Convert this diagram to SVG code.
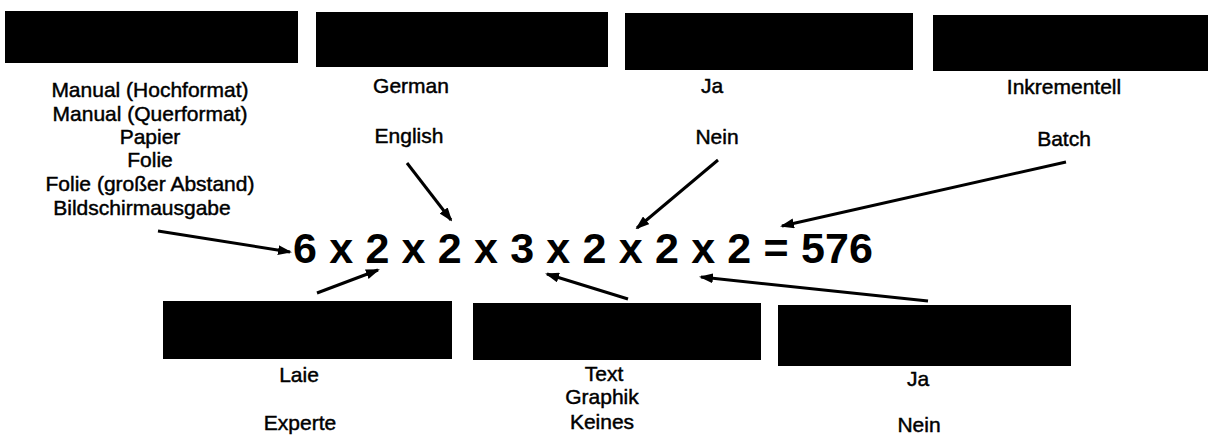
<svg xmlns="http://www.w3.org/2000/svg" width="1216" height="436" viewBox="0 0 1216 436">
<style>
.bar{fill:#000}
.lbl{font-family:"Liberation Sans",Arial,sans-serif;font-size:21px;fill:#000;stroke:#000;stroke-width:0.45;text-anchor:middle}
.eq{font-family:"Liberation Sans",Arial,sans-serif;font-size:43px;font-weight:bold;fill:#000}
.con{stroke:#000;stroke-width:3;fill:none;marker-end:url(#ah)}
</style>
<defs>
<marker id="ah" viewBox="0 0 14 10" refX="12" refY="5" markerWidth="14" markerHeight="10" markerUnits="userSpaceOnUse" orient="auto">
<path d="M0,0 L14,5 L0,10 z" fill="#000"/>
</marker>
</defs>
<rect x="0" y="0" width="1216" height="436" fill="#fff"/>
<g id="format">
<rect class="bar" x="5" y="11" width="293" height="52"/>
<text class="lbl" x="150" y="97">Manual (Hochformat)</text>
<text class="lbl" x="150" y="120.5">Manual (Querformat)</text>
<text class="lbl" x="150" y="144">Papier</text>
<text class="lbl" x="150" y="167">Folie</text>
<text class="lbl" x="150" y="191">Folie (großer Abstand)</text>
<text class="lbl" x="142" y="215">Bildschirmausgabe</text>
</g>
<g id="sprache">
<rect class="bar" x="316" y="12" width="292" height="55"/>
<text class="lbl" x="411" y="93">German</text>
<text class="lbl" x="409" y="143">English</text>
</g>
<g id="option3">
<rect class="bar" x="625" y="13" width="288" height="57"/>
<text class="lbl" x="712" y="93">Ja</text>
<text class="lbl" x="717" y="144">Nein</text>
</g>
<g id="modus">
<rect class="bar" x="933" y="15" width="275" height="56"/>
<text class="lbl" x="1064" y="94">Inkrementell</text>
<text class="lbl" x="1064" y="146">Batch</text>
</g>
<g id="gleichung">
<text class="eq" x="293" y="263" textLength="580">6 x 2 x 2 x 3 x 2 x 2 x 2 = 576</text>
</g>
<g id="nutzer">
<rect class="bar" x="163" y="301" width="289" height="58"/>
<text class="lbl" x="299" y="382">Laie</text>
<text class="lbl" x="300" y="430">Experte</text>
</g>
<g id="inhalt">
<rect class="bar" x="473" y="303" width="288" height="57"/>
<text class="lbl" x="604" y="381">Text</text>
<text class="lbl" x="602" y="404">Graphik</text>
<text class="lbl" x="602" y="429">Keines</text>
</g>
<g id="option7">
<rect class="bar" x="778" y="305" width="293" height="61"/>
<text class="lbl" x="918" y="386">Ja</text>
<text class="lbl" x="919" y="432">Nein</text>
</g>
<g id="connectors">
<line class="con" x1="158" y1="231" x2="290" y2="252"/>
<line class="con" x1="407" y1="163" x2="451" y2="220"/>
<line class="con" x1="718" y1="160" x2="637" y2="228"/>
<line class="con" x1="1066" y1="162" x2="782" y2="226"/>
<line class="con" x1="317" y1="293" x2="378" y2="270"/>
<line class="con" x1="628" y1="299" x2="547" y2="274"/>
<line class="con" x1="928" y1="301" x2="701" y2="277"/>
</g>
</svg>
